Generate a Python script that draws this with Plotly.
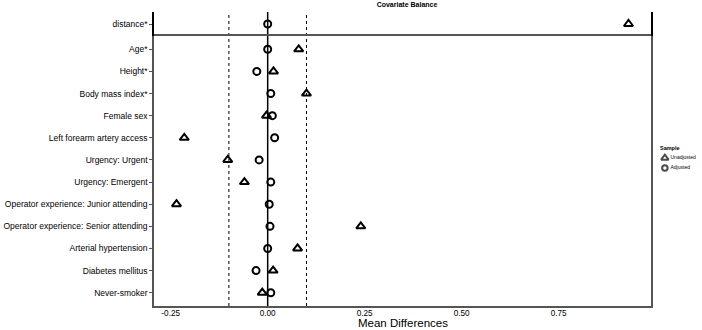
import plotly.graph_objects as go

title = "Covariate Balance"
top_cat = ["distance*"]
top_unadj = [0.93]
top_adj = [0.0]

cats = ["Age*", "Height*", "Body mass index*", "Female sex", "Left forearm artery access",
        "Urgency: Urgent", "Urgency: Emergent", "Operator experience: Junior attending",
        "Operator experience: Senior attending", "Arterial hypertension",
        "Diabetes mellitus", "Never-smoker"]
unadj = [0.080, 0.015, 0.100, -0.003, -0.215, -0.103, -0.060, -0.235, 0.240, 0.077, 0.014, -0.014]
adj = [0.000, -0.028, 0.008, 0.012, 0.018, -0.022, 0.008, 0.004, 0.006, 0.000, -0.030, 0.008]
thresholds = [-0.1, 0.1]
x_ticks = [-0.25, 0.0, 0.25, 0.50, 0.75]
x_ticklabels = ["-0.25", "0.00", "0.25", "0.50", "0.75"]
x_title = "Mean Differences"
legend_title = "Sample"
legend_labels = ["Unadjusted", "Adjusted"]

FONT = "Liberation Sans, Arial, sans-serif"
tri = dict(symbol="triangle-up-open", size=8, color="black", line=dict(width=2, color="black"))
circ = dict(symbol="circle-open", size=7, color="black", line=dict(width=2, color="black"))

# pixel geometry
L, T, B = 154, 12, 24
W, H = 702, 330
PW = W - L
PH = H - T - B
px_right = 651


def pxx(p):
    return (p - L) / PW


def pxy(p):
    return (H - B - p) / PH


fig = go.Figure()
fig.add_trace(go.Scatter(x=top_unadj, y=top_cat, mode="markers", marker=tri, name="Unadjusted",
                         xaxis="x", yaxis="y2", showlegend=False))
fig.add_trace(go.Scatter(x=top_adj, y=top_cat, mode="markers", marker=circ, name="Adjusted",
                         xaxis="x", yaxis="y2", showlegend=False))
fig.add_trace(go.Scatter(x=unadj, y=cats, mode="markers", marker=tri, name="Unadjusted",
                         xaxis="x", yaxis="y", showlegend=False))
fig.add_trace(go.Scatter(x=adj, y=cats, mode="markers", marker=circ, name="Adjusted",
                         xaxis="x", yaxis="y", showlegend=False))

# custom legend keys (on a small helper axis in the right margin)
fig.add_trace(go.Scatter(x=[0.21] * len(legend_labels), y=legend_labels, mode="markers",
                         marker=dict(symbol=["triangle-up-open", "circle-open"], size=[6.5, 5.5],
                                     color="black", line=dict(width=2, color="black")),
                         xaxis="x3", yaxis="y3", showlegend=False, hoverinfo="skip"))
fig.add_trace(go.Scatter(x=[0.33] * len(legend_labels), y=legend_labels, mode="text", text=legend_labels,
                         textposition="middle right",
                         textfont=dict(size=5, family=FONT, color="black"),
                         xaxis="x3", yaxis="y3", showlegend=False, hoverinfo="skip"))

for t in thresholds:
    fig.add_shape(type="line", xref="x", yref="paper", x0=t, x1=t, y0=0, y1=1,
                  line=dict(color="black", width=1, dash="dot"), layer="below")
fig.add_shape(type="line", xref="x", yref="paper", x0=0, x1=0, y0=0, y1=1,
              line=dict(color="black", width=1.5), layer="below")

fig.add_annotation(text=x_title, xref="paper", yref="paper", x=pxx((154 + 651) / 2), y=pxy(330),
                   xanchor="center", yanchor="bottom", showarrow=False, borderpad=0,
                   font=dict(size=11.5, family=FONT, color="black"))
fig.add_annotation(text="<b>" + legend_title + "</b>", xref="paper", yref="paper", x=pxx(658), y=pxy(148),
                   xanchor="left", yanchor="middle", showarrow=False,
                   font=dict(size=5.5, family=FONT, color="black"))

split = 270 / PH
axcol = "#555555"
main_dom = pxx(px_right)
fig.update_layout(
    width=W, height=H,
    margin=dict(l=L, r=0, t=T, b=B, autoexpand=False),
    plot_bgcolor="white", paper_bgcolor="white",
    font=dict(family=FONT, color="black"),
    showlegend=False,
    title=dict(text="<b>" + title + "</b>", x=407 / W, xanchor="center", y=1 - 5 / H, yanchor="middle",
               font=dict(size=7, family=FONT, color="black")),
    xaxis=dict(domain=[0, main_dom], range=[-0.293, 0.988], tickvals=x_ticks, ticktext=x_ticklabels,
               showgrid=False, zeroline=False, showline=True, linecolor=axcol, linewidth=1.5, mirror=True,
               ticks="", ticklabelstandoff=-2, tickfont=dict(size=8.2, color="black"), anchor="y"),
    yaxis=dict(domain=[0, split], type="category", categoryarray=cats, range=[11.6, -0.6],
               showgrid=False, zeroline=False, showline=True, linecolor=axcol, linewidth=1.5,
               mirror=True, ticks="outside", ticklen=3, tickcolor=axcol,
               tickfont=dict(size=8.5, color="black")),
    yaxis2=dict(domain=[split, 1], type="category", categoryarray=top_cat, range=[0.6, -0.6],
                showgrid=False, zeroline=False, showline=True, linecolor="black", linewidth=1.5,
                mirror=True, ticks="outside", ticklen=3, tickcolor=axcol,
                tickfont=dict(size=8.5, color="black")),
    xaxis3=dict(domain=[pxx(655), 1], range=[0, 1], visible=False, anchor="y3", fixedrange=True),
    yaxis3=dict(domain=[pxy(173), pxy(153)], type="category", categoryarray=legend_labels,
                range=[1.5, -0.5], visible=False, anchor="x3", fixedrange=True),
)
fig.write_html("out.html")
